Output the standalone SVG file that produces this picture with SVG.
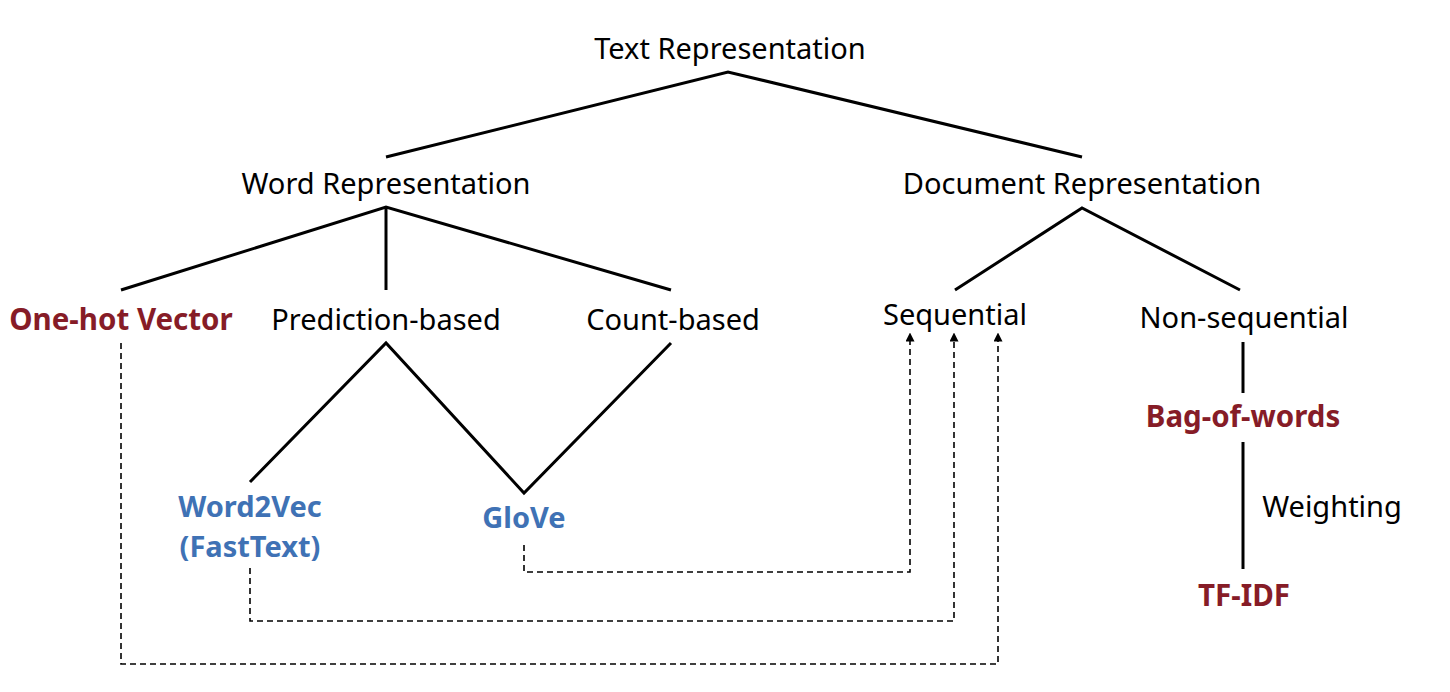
<svg xmlns="http://www.w3.org/2000/svg" width="1450" height="692" viewBox="0 0 1450 692">
<style>
text{font-family:"Noto Sans","Open Sans",sans-serif;font-size:29px;text-anchor:middle;fill:#000}
.r{font-weight:bold;font-size:29.5px;fill:#861C27}
.b{font-weight:bold;font-size:29px;fill:#3F72B5}
.t{stroke:#000;stroke-width:3;fill:none}
.d{stroke:#000;stroke-width:1.6;fill:none;stroke-dasharray:6 4}
</style>
<defs>
<marker id="ah" viewBox="0 0 10 10" refX="5" refY="5" markerWidth="9" markerHeight="9" markerUnits="userSpaceOnUse" orient="auto">
<path d="M0,0 L10,5 L0,10 z" fill="#000"/>
</marker>
</defs>
<rect width="1450" height="692" fill="#fff"/>
<g id="connectors">
<polyline class="t" points="386,157 728,72 1082,157"/>
<polyline class="t" points="121,290 386,207 671,290"/>
<line class="t" x1="386" y1="207" x2="386" y2="290"/>
<polyline class="t" points="955,290 1082,208 1240,290"/>
<polyline class="t" points="250,482 386,343 524,493 671,343"/>
<line class="t" x1="1243" y1="342" x2="1243" y2="393"/>
<line class="t" x1="1243" y1="442" x2="1243" y2="569"/>
<polyline class="d" points="524,545 524,572 910,572 910,337" marker-end="url(#ah)"/>
<polyline class="d" points="250,568 250,621 954,621 954,337" marker-end="url(#ah)"/>
<polyline class="d" points="121,343 121,664 998,664 998,337" marker-end="url(#ah)"/>
</g>
<g id="text-representation"><text x="730" y="59">Text Representation</text></g>
<g id="word-representation"><text x="386" y="194">Word Representation</text></g>
<g id="document-representation"><text x="1082" y="194">Document Representation</text></g>
<g id="one-hot-vector"><text class="r" x="121" y="330">One-hot Vector</text></g>
<g id="prediction-based"><text x="386" y="330">Prediction-based</text></g>
<g id="count-based"><text x="673" y="330">Count-based</text></g>
<g id="sequential"><text x="955" y="325">Sequential</text></g>
<g id="non-sequential"><text x="1244" y="328">Non-sequential</text></g>
<g id="word2vec"><text class="b" x="250" y="517">Word2Vec</text><text class="b" x="250" y="557">(FastText)</text></g>
<g id="glove"><text class="b" x="524" y="528">GloVe</text></g>
<g id="bag-of-words"><text class="r" x="1243" y="427">Bag-of-words</text></g>
<g id="weighting-label"><text x="1332" y="517">Weighting</text></g>
<g id="tf-idf"><text class="r" x="1244" y="606">TF-IDF</text></g>
</svg>
